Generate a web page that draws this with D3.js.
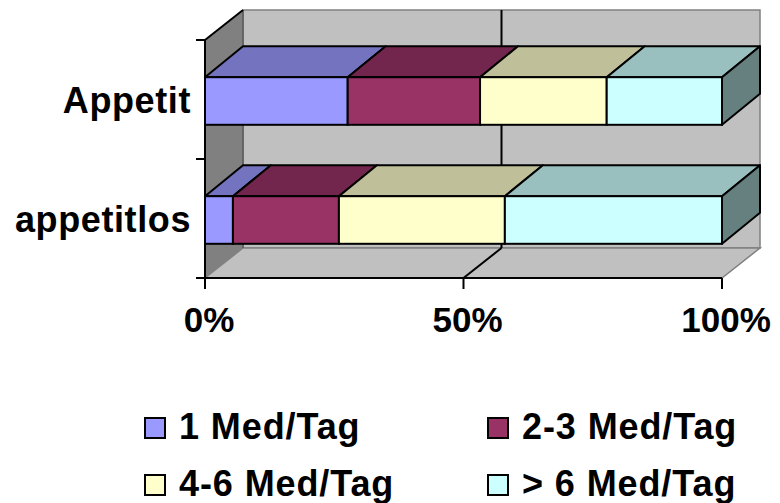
<!DOCTYPE html>
<html>
<head>
<meta charset="utf-8">
<script src="https://cdn.jsdelivr.net/npm/d3@7"></script>
<style>
  html, body { margin: 0; padding: 0; background: #ffffff; }
  svg { display: block; }
  text { font-family: "Liberation Sans", Arial, sans-serif; font-weight: bold; fill: #000; }
</style>
</head>
<body>
<svg id="chart" width="780" height="503"></svg>
<script>
// Categories, series and their shares (percent of each row)
const categories = ["Appetit", "appetitlos"];
const seriesNames = ["1 Med/Tag", "2-3 Med/Tag", "4-6 Med/Tag", "> 6 Med/Tag"];
const appetitValues = [27.6, 25.6, 24.5, 22.3];
const appetitlosValues = [5.4, 20.5, 32.1, 42.0];
const tickValues = [0, 0.5, 1];
const tickLabels = ["0%", "50%", "100%"];

// Face colours: front, top (shaded), right side (darker)
const frontColors = ["#9999FF", "#993366", "#FFFFCC", "#CCFFFF"];
const topColors   = ["#7373BF", "#73264D", "#BFBF99", "#99BFBF"];
const sideColors  = ["#4D4D80", "#4D1A33", "#808066", "#668080"];

const svg = d3.select("#chart");

// 3D depth offset of the oblique projection
const DX = 38, DY = -30;

const x = d3.scaleLinear().domain([0, 1]).range([205, 722]);
const y = d3.scaleBand().domain(categories).range([40, 278]);

// Table for the stack layout
const valuesByCat = { "Appetit": appetitValues, "appetitlos": appetitlosValues };
const rows = categories.map(c => {
  const r = { cat: c };
  seriesNames.forEach((s, i) => r[s] = valuesByCat[c][i]);
  return r;
});
const stacked = d3.stack().keys(seriesNames).offset(d3.stackOffsetExpand)(rows);

const x0 = x(0), x1 = x(1), yTop = y.range()[0], yBot = y.range()[1];
const line = d3.line();

// Walls and floor
const g = svg.append("g");
// left wall
g.append("path")
  .attr("d", line([[x0, yTop], [x0 + DX, yTop + DY], [x0 + DX, yBot + DY], [x0, yBot]]) + "Z")
  .attr("fill", "#808080").attr("stroke", "none");
// back wall
g.append("path")
  .attr("d", line([[x0 + DX, yTop + DY], [x1 + DX, yTop + DY], [x1 + DX, yBot + DY], [x0 + DX, yBot + DY]]) + "Z")
  .attr("fill", "#C0C0C0").attr("stroke", "#808080").attr("stroke-width", 1.5);
// floor
g.append("path")
  .attr("d", line([[x0, yBot], [x0 + DX, yBot + DY], [x1 + DX, yBot + DY], [x1, yBot]]) + "Z")
  .attr("fill", "#C0C0C0").attr("stroke", "#808080").attr("stroke-width", 1.5);
// left wall edges
g.append("path").attr("d", line([[x0 + DX, yTop + DY], [x0 + DX, yBot + DY]]))
  .attr("stroke", "#5a5a5a").attr("stroke-width", 1.5).attr("fill", "none");
g.append("path").attr("d", line([[x0, yTop], [x0 + DX, yTop + DY]]))
  .attr("stroke", "#000").attr("stroke-width", 2).attr("fill", "none");

// Value gridlines on back wall and floor (inner ticks only)
tickValues.filter(v => v > 0 && v < 1).forEach(v => {
  const gx = x(v);
  g.append("path").attr("d", line([[gx + DX, yTop + DY], [gx + DX, yBot + DY]]))
    .attr("stroke", "#000").attr("stroke-width", 2).attr("fill", "none");
  g.append("path").attr("d", line([[gx, yBot], [gx + DX, yBot + DY]]))
    .attr("stroke", "#000").attr("stroke-width", 2).attr("fill", "none");
});

// Axes lines and ticks
g.append("path").attr("d", line([[x0, yTop], [x0, yBot]]))
  .attr("stroke", "#000").attr("stroke-width", 2).attr("fill", "none");
g.append("path").attr("d", line([[x0, yBot], [x1, yBot]]))
  .attr("stroke", "#000").attr("stroke-width", 2).attr("fill", "none");
const catBounds = categories.map(c => y(c)).concat([yBot]);
catBounds.forEach(ty => {
  g.append("path").attr("d", line([[x0 - 9, ty], [x0, ty]]))
    .attr("stroke", "#000").attr("stroke-width", 2).attr("fill", "none");
});
tickValues.forEach(v => {
  g.append("path").attr("d", line([[x(v), yBot], [x(v), yBot + 11]]))
    .attr("stroke", "#000").attr("stroke-width", 2).attr("fill", "none");
});

// Bars
const BDY = -31;
const barH = y.bandwidth() / 2.5;
const bars = svg.append("g");
categories.forEach((c, ci) => {
  const by0 = y(c) + (y.bandwidth() - barH) / 2 + 1.5;
  const by1 = by0 + barH;
  stacked.forEach((layer, si) => {
    const d = layer[ci];
    const a = x(d[0]), b = x(d[1]);
    // top face
    bars.append("path")
      .attr("d", line([[a, by0], [a + DX, by0 + BDY], [b + DX, by0 + BDY], [b, by0]]) + "Z")
      .attr("fill", topColors[si]).attr("stroke", "#000").attr("stroke-width", 2)
      .attr("stroke-linejoin", "round");
    // front face
    bars.append("rect")
      .attr("x", a).attr("y", by0).attr("width", b - a).attr("height", by1 - by0)
      .attr("fill", frontColors[si]).attr("stroke", "#000").attr("stroke-width", 2);
    // right side face of the last segment
    if (si === stacked.length - 1) {
      bars.append("path")
        .attr("d", line([[b, by0], [b + DX, by0 + BDY], [b + DX, by1 + BDY], [b, by1]]) + "Z")
        .attr("fill", sideColors[si]).attr("stroke", "#000").attr("stroke-width", 2)
        .attr("stroke-linejoin", "round");
    }
  });
});

// Category labels
categories.forEach(c => {
  svg.append("text")
    .attr("x", 191).attr("y", y(c) + y.bandwidth() / 2 + 13)
    .attr("text-anchor", "end")
    .attr("font-size", 36)
    .attr("letter-spacing", 0.6)
    .text(c);
});

// Value axis labels
tickValues.forEach((v, i) => {
  svg.append("text")
    .attr("x", x(v) + 4).attr("y", 332)
    .attr("text-anchor", "middle")
    .attr("font-size", 35)
    .text(tickLabels[i]);
});

// Legend (2 x 2)
const legCols = [145, 488];
const legRows = [418, 475];
seriesNames.forEach((s, i) => {
  const lx = legCols[i % 2], ly = legRows[Math.floor(i / 2)];
  svg.append("rect")
    .attr("x", lx).attr("y", ly).attr("width", 20).attr("height", 20)
    .attr("fill", frontColors[i]).attr("stroke", "#000").attr("stroke-width", 2);
  svg.append("text")
    .attr("x", lx + 34).attr("y", ly + 21)
    .attr("font-size", 36)
    .attr("letter-spacing", 0.9)
    .text(s);
});
</script>
</body>
</html>
